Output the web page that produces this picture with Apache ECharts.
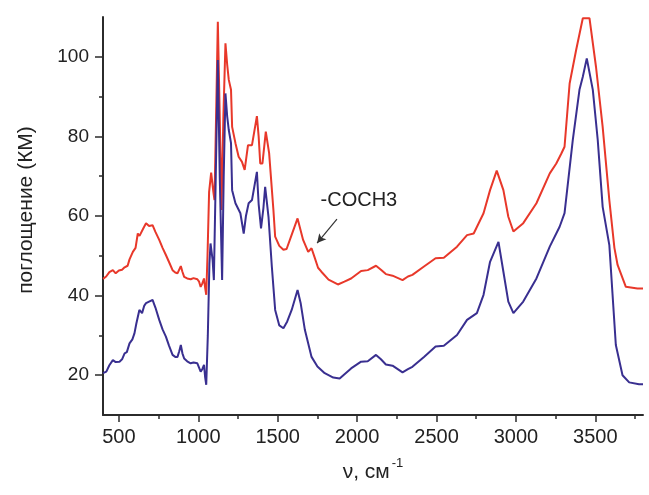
<!DOCTYPE html>
<html>
<head>
<meta charset="utf-8">
<script src="https://cdn.jsdelivr.net/npm/echarts@6/dist/echarts.min.js"></script>
<style>
  html, body { margin: 0; padding: 0; background: #fff; }
  #chart { width: 649px; height: 495px; }
</style>
</head>
<body>
<div id="chart"></div>
<script>
// wavenumbers (cm-1) and absorbance (KM)
var redX = [400, 420, 440, 462, 480, 500, 520, 536, 555, 567, 588, 605, 619, 630, 640, 655, 671, 690, 702, 712,
  730, 754, 775, 796, 815, 838, 855, 869, 880, 890, 900, 911, 930, 952, 970, 994, 1005, 1015, 1025, 1036,
  1043, 1050, 1058, 1068, 1081, 1095, 1102, 1112, 1123, 1135, 1146, 1158, 1171, 1182, 1192, 1206, 1213, 1234, 1254, 1275,
  1292, 1313, 1338, 1350, 1369, 1380, 1390, 1404, 1425, 1446, 1473, 1484, 1510, 1536, 1556, 1590, 1625, 1660, 1692, 1713,
  1734, 1754, 1775, 1820, 1879, 1920, 1962, 2025, 2067, 2119, 2150, 2181, 2223, 2286, 2320, 2348, 2421, 2494, 2546, 2629,
  2692, 2734, 2796, 2837, 2879, 2921, 2952, 2984, 3046, 3129, 3213, 3254, 3286, 3306, 3338, 3379, 3421, 3463, 3504, 3546,
  3588, 3620, 3640, 3692, 3765, 3800]
var redY = [44.2, 44.8, 45.9, 46.4, 45.6, 46.3, 46.5, 47.1, 47.5, 49.1, 51, 52, 55.6, 55, 55.2, 57, 58.2, 57.5, 57.3, 57.7,
  56, 54, 52, 50.2, 48.5, 46.4, 45.8, 45.6, 46, 47.4, 46, 44.7, 44.3, 44.1, 44.4, 44.1, 43.5, 42.2, 43, 44.3,
  42, 40.2, 50, 66, 70.9, 66, 64, 85, 108.8, 85, 61.5, 85, 103.4, 98, 94.2, 91.7, 82.4, 78.3, 74.9, 73.6,
  71.6, 77.8, 77.8, 77.3, 85.1, 80, 73.2, 73.2, 81.2, 75.8, 61.5, 54.8, 52.5, 51.5, 51.7, 55.5, 59.4, 54, 51, 51.9,
  49.4, 47, 46, 44, 42.8, 43.5, 44.3, 46.2, 46.4, 47.5, 46.5, 45.4, 45, 43.9, 44.8, 45.2, 47.3, 49.4, 49.5, 52.3,
  55.2, 55.6, 60.7, 66.5, 71.4, 66.5, 59.8, 56.1, 58.2, 63.2, 70.7, 73.2, 75.7, 77.4, 93.3, 101.7, 109.7, 109.7, 97.5, 82.4,
  64, 52, 47.7, 42.2, 41.8, 41.8]

var blueX = [400, 410, 421, 440, 462, 480, 504, 520, 536, 550, 567, 585, 598, 610, 629, 646, 660, 671, 690, 712,
  730, 754, 775, 796, 815, 838, 855, 869, 880, 890, 900, 911, 930, 952, 970, 994, 1005, 1015, 1025, 1036,
  1043, 1050, 1060, 1070, 1077, 1090, 1098, 1110, 1123, 1135, 1150, 1160, 1171, 1182, 1192, 1206, 1213, 1234, 1265, 1286,
  1300, 1317, 1338, 1350, 1369, 1380, 1395, 1410, 1421, 1442, 1463, 1484, 1510, 1536, 1560, 1588, 1625, 1645, 1671, 1713,
  1750, 1796, 1850, 1890, 1962, 2025, 2067, 2119, 2150, 2181, 2223, 2286, 2320, 2348, 2421, 2494, 2546, 2629, 2692, 2754,
  2796, 2837, 2890, 2921, 2952, 2984, 3046, 3129, 3213, 3275, 3306, 3358, 3400, 3421, 3446, 3484, 3515, 3546, 3588, 3629,
  3671, 3713, 3775, 3800]
var blueY = [20.5, 20.2, 20.9, 22.5, 23.8, 23.3, 23.4, 24, 25.5, 25.8, 28, 29, 30.5, 33, 36.4, 35.6, 37.5, 38.1, 38.5, 38.9,
  37, 33.9, 31.5, 29.7, 27.5, 25.1, 24.6, 24.6, 26, 27.6, 25.5, 24.2, 23.5, 23, 23.2, 23, 22.5, 20.9, 21.5, 22.6,
  19.5, 17.6, 30, 48, 53.1, 49, 43.9, 70, 99.2, 70, 43.9, 70, 90.8, 85, 81.6, 78.3, 66.5, 63.2, 60.7, 55.6,
  60, 63.2, 64, 63.5, 71.1, 63, 56.9, 62, 67.3, 59.8, 47.3, 36.4, 32.5, 31.8, 33.5, 36.4, 41.4, 38, 31.4, 24.6,
  22.2, 20.5, 19.4, 19.2, 21.7, 23.4, 23.5, 25.1, 24, 22.7, 22.4, 20.7, 21.5, 22.1, 24.6, 27.2, 27.4, 30.1, 33.9, 35.6,
  40.2, 48.5, 53.5, 46, 38.5, 35.6, 38.5, 44.3, 52.3, 57.3, 60.7, 79.1, 91.7, 95, 99.6, 91.7, 79.1, 62.3, 52.7, 27.6,
  20, 18.2, 17.7, 17.7]

var xMajor = [500, 1000, 1500, 2000, 2500, 3000, 3500]
var xMinor = [750, 1250, 1750, 2250, 2750, 3250, 3750]
var yMajor = [20, 40, 60, 80, 100]
var yMinor = [30, 50, 70, 90]

// annotation: label position and arrow (data coords)
var noteText = '-COCH3'
var noteAt = [2011, 64]
var arrowFrom = [1873, 59.2]
var arrowTo = [1748, 53.2]

function pairs(xs, ys) {
  return xs.map(function(x, i) { return [x, ys[i]] })
}

var font = 'Liberation Sans'
var axisColor = '#2b2b2b'
var textColor = '#222'

var chart = echarts.init(document.getElementById('chart'), null, { renderer: 'canvas' })

function plain(v) {
  return String(v)
}

chart.setOption({
  animation: false,
  backgroundColor: '#fff',
  grid: { left: 103, right: 6, top: 17, bottom: 80, outerBoundsMode: 'none' },
  xAxis: [
    {
      type: 'value', min: 400, max: 3800, position: 'bottom',
      axisLine: { show: true, onZero: false, lineStyle: { color: axisColor, width: 2 } },
      axisTick: { show: true, length: 7, customValues: xMajor, lineStyle: { color: axisColor, width: 1.5 } },
      axisLabel: { customValues: xMajor, formatter: plain, margin: 12, fontSize: 20, color: textColor, fontFamily: font },
      splitLine: { show: false },
      name: '{a|ν, см}{s|-1}',
      nameLocation: 'middle',
      nameGap: 42,
      nameTextStyle: {
        rich: {
          a: { fontSize: 21, color: textColor, fontFamily: font, verticalAlign: 'bottom', lineHeight: 26 },
          s: { fontSize: 13, color: textColor, fontFamily: font, verticalAlign: 'top', lineHeight: 26, padding: [0, 0, 14, 2] }
        }
      }
    },
    {
      type: 'value', min: 400, max: 3800, position: 'bottom',
      axisLine: { show: false },
      axisTick: { show: true, length: 4, customValues: xMinor, lineStyle: { color: axisColor, width: 1.5 } },
      axisLabel: { show: false },
      splitLine: { show: false }
    }
  ],
  yAxis: [
    {
      type: 'value', min: 10, max: 110, position: 'left',
      axisLine: { show: true, onZero: false, lineStyle: { color: axisColor, width: 2 } },
      axisTick: { show: true, length: 8, customValues: yMajor, lineStyle: { color: axisColor, width: 1.5 } },
      axisLabel: { customValues: yMajor, formatter: plain, margin: 14, fontSize: 19, color: textColor, fontFamily: font },
      splitLine: { show: false },
      name: 'поглощение (КМ)',
      nameLocation: 'middle',
      nameRotate: 90,
      nameGap: 66,
      nameTextStyle: { fontSize: 21, color: textColor, fontFamily: font, padding: [0, 0, 0, 12] }
    },
    {
      type: 'value', min: 10, max: 110, position: 'left',
      axisLine: { show: false },
      axisTick: { show: true, length: 4, customValues: yMinor, lineStyle: { color: axisColor, width: 1.5 } },
      axisLabel: { show: false },
      splitLine: { show: false }
    }
  ],
  series: [
    {
      name: 'red',
      type: 'line',
      data: pairs(redX, redY),
      showSymbol: false,
      symbol: 'none',
      lineStyle: { color: '#e8382a', width: 2 },
      z: 3,
      markLine: {
        silent: true,
        symbol: ['none', 'arrow'],
        symbolSize: [7, 9],
        label: { show: false },
        lineStyle: { color: '#333', width: 1.2, type: 'solid' },
        data: [[{ coord: arrowFrom }, { coord: arrowTo }]]
      },
      markPoint: {
        silent: true,
        symbol: 'rect',
        symbolSize: [1, 1],
        itemStyle: { color: 'rgba(0,0,0,0)' },
        label: { show: true, position: 'inside', formatter: noteText, fontSize: 20, color: textColor, fontFamily: font },
        data: [{ coord: noteAt }]
      }
    },
    {
      name: 'blue',
      type: 'line',
      data: pairs(blueX, blueY),
      showSymbol: false,
      symbol: 'none',
      lineStyle: { color: '#392f90', width: 2 },
      z: 4
    }
  ]
})
</script>
</body>
</html>
